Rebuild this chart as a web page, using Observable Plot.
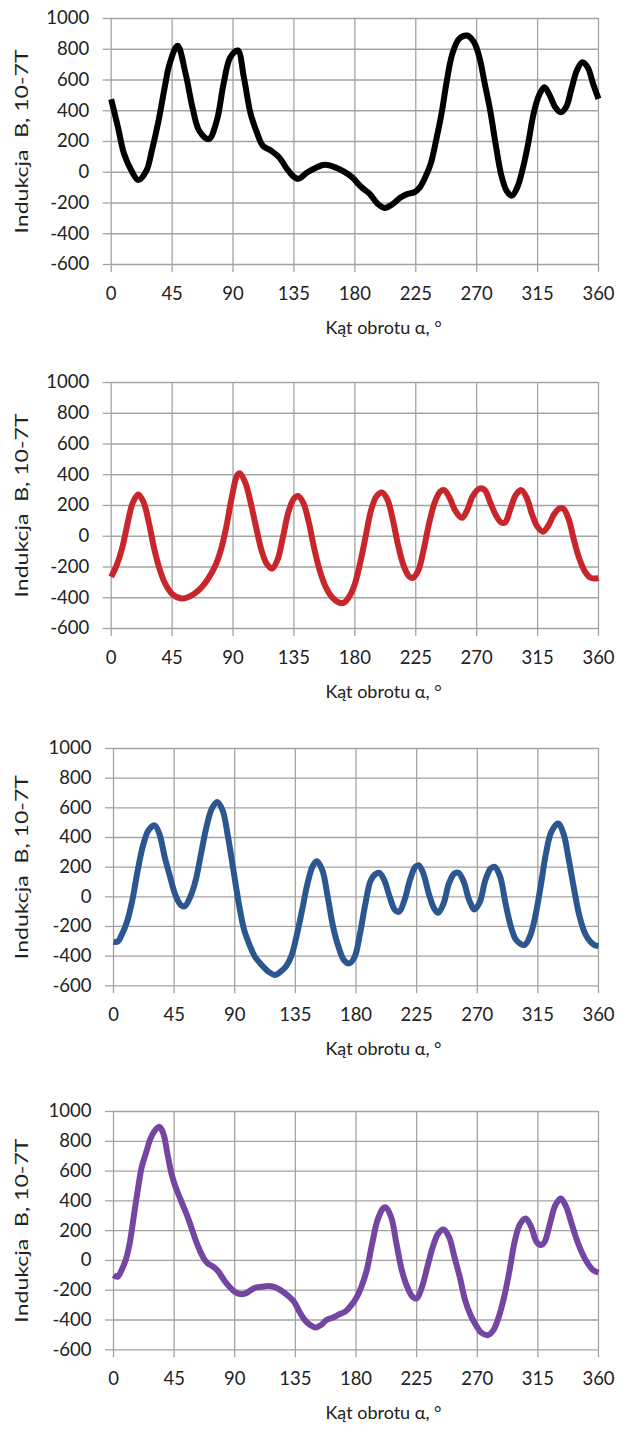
<!DOCTYPE html>
<html><head><meta charset="utf-8">
<script src="https://cdn.jsdelivr.net/npm/d3@7"></script>
<script src="https://cdn.jsdelivr.net/npm/@observablehq/plot@0.6"></script>
<style>
body{margin:0;background:#fff;width:631px;height:1433px;position:relative;overflow:hidden;font-family:Lato,"Open Sans",sans-serif}
.panel{position:absolute;left:0}
</style></head><body>
<script>
const xTicks = [0, 45, 90, 135, 180, 225, 270, 315, 360];
const yTicks = [-600, -400, -200, 0, 200, 400, 600, 800, 1000];
const xTitle = "Kąt obrotu α, °";
const yTitle = "Indukcja\u00A0 B, 10-7T";

const angles1 = [0,5,9.5,15,20,26,30,35,40,43,49,55,60,65,72,78,83,88,93.5,98,103,108,112,118,124,129,134,138,145,152,158,165,172,178,185,191,197,202,208,214,219,224,228,232,236,240,244,248,252,257,263,268,272,276,280,284,288,292,296,300,304,308,312,316,320,324,328,332,336,340,344,348,352,356,360];
const values1 = [475,293,120,10,-50,10,140,336,575,700,822,640,423,270,215,336,575,748,792,618,380,250,173,141,98,33,-22,-43,0,33,48,33,4,-33,-98,-141,-206,-232,-206,-163,-141,-130,-98,-33,54,206,380,597,770,868,889,846,748,575,401,184,-11,-119,-152,-98,22,184,380,499,553,500,423,390,423,542,661,716,683,575,477];

const angles2 = [0,4,8,12,16,20,24,28,32,36,40,45,52,57,62,67,72,77,81,85,89,93,95,99,103,107,111,115,119,123,127,131,135,138,142,146,150,154,158,163,168,172,176,180,184,188,192,196,200,204,208,212,216,220,223,227,231,235,239,243,246,250,254,259,263,267,272,276,280,284,288,291,295,299,303,307,311,315,319,323,327,331,334,338,342,346,350,354,357,360];
const values2 = [-265,-190,-80,80,220,272,220,80,-90,-220,-310,-375,-405,-395,-370,-330,-270,-190,-90,60,250,395,410,350,220,60,-90,-180,-210,-150,0,160,245,262,215,90,-80,-220,-320,-395,-430,-432,-390,-310,-170,0,170,260,285,240,110,-60,-190,-260,-270,-220,-80,90,220,290,300,250,170,120,170,260,310,300,220,140,90,90,180,270,300,250,140,60,30,70,140,180,180,110,-30,-150,-230,-270,-275,-270];

const angles3 = [0,3,6,10,14,18,22,26,30.5,34,38,42,46,50,53,57,61,65,69,73,77,81,85,89,93,97,101,105,110,115,120,124,128,132,136,140,144,148,151,155,159,163,167,171,175,179,183,187,191,195,197.5,201,205,209,212,216,220,224,226.5,230,234,238,241,245,249,253,256,260,264,268,272,276,280,283,287,291,295,299,305,309,313,317,321,325,330,334,338,342,346,350,354,357,360];
const values3 = [-303,-303,-258,-168,-22,180,348,449,482,426,269,135,11,-56,-63,0,112,292,471,595,640,583,404,180,-45,-224,-325,-404,-460,-505,-527,-505,-470,-400,-260,-90,90,210,240,180,0,-202,-337,-426,-449,-404,-247,-45,112,157,160,112,0,-90,-101,-22,112,202,213,157,22,-79,-108,-45,90,157,162,101,-22,-85,-34,112,191,202,135,-45,-202,-292,-325,-269,-135,67,292,438,494,426,247,45,-135,-247,-303,-325,-332];

const angles4 = [0,3,6,9,12,15,18,21,24,27,30,34,37,40,43,46,49,52,55,58,61,64,67,70,74,78,82,86,90,94,98,102,106,110,115,119,124,129,134,138,142,146,150,154,158,163,168,172,176,180,184,188,192,196,200,202,206,210,214,218,222,225,229,233,237,241,245,249,253,257,261,265,269,273,278,282,286,290,294,298,302,306,310,314,317,320,324,328,332,336,340,344,348,352,356,360];
const values4 = [-98,-110,-65,2,114,293,472,629,718,807,863,897,852,718,584,494,427,360,293,215,136,69,13,-20,-42,-76,-132,-177,-210,-226,-221,-199,-181,-177,-172,-177,-199,-233,-277,-344,-400,-434,-450,-434,-400,-383,-360,-344,-306,-255,-177,-65,114,271,349,356,293,114,-65,-177,-244,-255,-177,-42,90,180,208,159,25,-110,-266,-367,-434,-485,-501,-468,-378,-244,-65,136,248,282,226,125,103,125,248,371,416,360,248,136,47,-20,-65,-83];

const colors = ["#000000", "#C8262C", "#2C5690", "#7446A2"];

const panels = [
  {angles: angles1, values: values1, color: colors[0], top: 18.3, h: 246, left: 110.7},
  {angles: angles2, values: values2, color: colors[1], top: 382.3, h: 246, left: 110.7},
  {angles: angles3, values: values3, color: colors[2], top: 748, h: 237.3, left: 113},
  {angles: angles4, values: values4, color: colors[3], top: 1111, h: 238.3, left: 113}
];

const W = 631, right = 598, mTop = 10, mBottom = 92;
const font = 'Lato, "Open Sans", sans-serif';
const gridColor = "#a3a3a3";

panels.forEach(p => {
  const data = p.angles.map((a, i) => ({a, v: p.values[i]}));
  const H = mTop + p.h + mBottom;
  const centerX = (p.left + right) / 2;
  const chart = Plot.plot({
    width: W,
    height: H,
    marginTop: mTop,
    marginBottom: mBottom,
    marginLeft: p.left,
    marginRight: W - right,
    style: {fontFamily: font, background: "white", overflow: "visible"},
    x: {domain: [0, 360]},
    y: {domain: [-600, 1000]},
    marks: [
      Plot.gridX(xTicks, {stroke: gridColor, strokeOpacity: 1, strokeWidth: 1.3}),
      Plot.gridY(yTicks, {stroke: gridColor, strokeOpacity: 1, strokeWidth: 1.3}),
      Plot.axisX({ticks: xTicks, tickFormat: d => String(d), tickSize: 8, tickPadding: 14, stroke: gridColor, strokeWidth: 1.3, color: "#222", fontSize: 18.5, label: null}),
      Plot.axisY({ticks: yTicks, tickFormat: d => String(d), tickSize: 8, tickPadding: 14, stroke: gridColor, strokeWidth: 1.3, color: "#222", fontSize: 18.5, label: null}),
      Plot.line(data, {x: "a", y: "v", stroke: p.color, strokeWidth: 6, curve: "catmull-rom", strokeLinejoin: "round", strokeLinecap: "butt"}),
      Plot.text([xTitle], {frameAnchor: "bottom", dx: 383 - centerX, dy: 69, fontSize: 18, fill: "#222", fontFamily: font}),
      Plot.text([yTitle], {frameAnchor: "left", textAnchor: "middle", dx: 22 - p.left, rotate: -90, fontSize: 17, fill: "#222", fontFamily: font})
    ]
  });
  d3.select(chart).selectAll("text")
    .filter(function() { return this.textContent === yTitle; })
    .attr("textLength", 184)
    .attr("lengthAdjust", "spacingAndGlyphs");
  chart.classList.add("panel");
  chart.style.top = (p.top - mTop) + "px";
  document.body.appendChild(chart);
});
</script>
</body></html>
